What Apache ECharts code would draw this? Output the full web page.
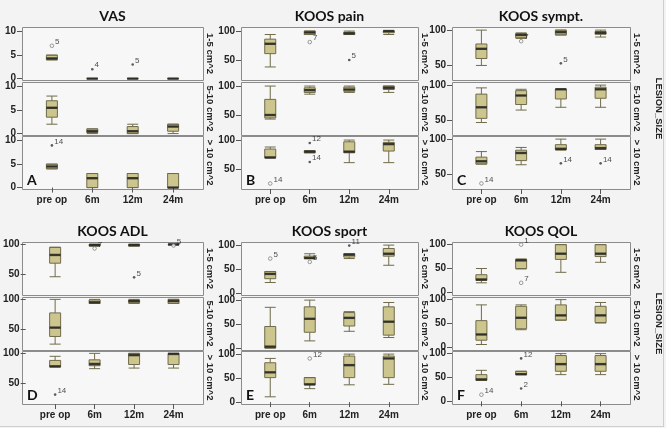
<!DOCTYPE html>
<html>
<head>
<meta charset="utf-8">
<script src="https://cdn.jsdelivr.net/npm/echarts@6/dist/echarts.min.js"></script>
<style>html,body{margin:0;padding:0;background:#f3f3f3;}#c{width:666px;height:428px;}</style>
</head>
<body>
<div id="c"></div>
<script>
const categories = ['pre op', '6m', '12m', '24m'];
const rowLabels = ['1-5 cm^2', '5-10 cm^2', '> 10 cm^2'];
const panelTitles = ['VAS', 'KOOS pain', 'KOOS sympt.', 'KOOS ADL', 'KOOS sport', 'KOOS QOL'];
const panelLetters = ['A', 'B', 'C', 'D', 'E', 'F'];

// boxes per lesion-size row: [min, Q1, median, Q3, max] for pre op, 6m, 12m, 24m
const vasBoxes = [
  [[4, 4, 4.3, 5, 5], [0, 0, 0, 0, 0], [0, 0, 0, 0, 0], [0, 0, 0, 0, 0]],
  [[2, 3.5, 5.5, 7, 8], [0, 0.2, 0.5, 1, 1], [0, 0, 0.5, 1.5, 2], [0, 0.5, 1.5, 2, 2]],
  [[4, 4, 4.5, 5, 5], [0, 0, 2, 3, 3], [0, 0, 2, 3, 3], [0, 0, 0, 3, 3]]
];
const painBoxes = [
  [[38, 61, 78, 86, 94], [94, 94, 97.5, 100, 100], [94, 94, 96, 98, 100], [94, 97, 100, 100, 100]],
  [[43, 45, 50, 77, 100], [86, 89, 93, 97, 100], [89, 91, 94, 98, 100], [89, 94, 97, 100, 100]],
  [[69, 69.5, 70, 84.5, 88], [78, 78, 80, 81.5, 81.5], [61, 78, 80, 97, 100], [61, 81, 93, 96, 100]]
];
const symptBoxes = [
  [[49, 59, 73, 80, 100], [88, 89, 93, 95, 96], [93, 93, 97, 100, 100], [90, 94, 96, 98, 100]],
  [[46, 52, 68, 87, 96], [64, 72, 85, 92, 94], [68, 80, 94, 94, 94], [68, 81, 94, 97, 100]],
  [[64, 64, 68, 74, 82], [63, 69, 80, 84, 88], [84, 85, 86, 92, 100], [85, 85, 87, 92, 100]]
];
const adlBoxes = [
  [[45, 68, 82, 95, 95], [97, 97, 99, 100, 100], [97, 97, 99, 100, 100], [99, 99, 100, 100, 100]],
  [[24, 37, 52, 77, 100], [93, 93, 95, 99, 100], [93, 94, 97, 99, 100], [93, 93, 97, 100, 100]],
  [[77, 77, 78, 88, 95], [74, 79, 82, 89, 100], [75, 81, 97, 100, 100], [75, 81, 99, 100, 100]]
];
const sportBoxes = [
  [[22, 30, 40, 45, 45], [72, 72, 73, 77, 82], [72, 75, 80, 82, 82], [58, 77, 82, 93, 100]],
  [[0, 0, 3, 45, 85], [15, 33, 61, 86, 100], [35, 46, 63, 74, 76], [22, 27, 55, 86, 95]],
  [[11, 51, 62, 82, 91], [28, 36, 37, 51, 51], [36, 51, 77, 96, 100], [37, 51, 91, 96, 100]]
];
const qolBoxes = [
  [[20, 25, 27, 37, 50], [49, 50, 67, 69, 70], [42, 69, 81, 100, 100], [63, 75, 81, 100, 100]],
  [[6, 15, 27, 56, 89], [37, 39, 62, 86, 89], [57, 57, 67, 89, 100], [51, 52, 67, 86, 94]],
  [[44, 44, 46, 56, 65], [56, 56, 57, 63, 63], [56, 63, 78, 96, 100], [56, 63, 78, 96, 100]]
];

// outliers: [row, category index, value, case label, kind ('o' = outlier, '*' = extreme)]
const vasOutliers = [[0, 0, 7, '5', 'o'], [0, 1, 2, '4', '*'], [0, 2, 3, '5', '*'], [2, 0, 9, '14', '*']];
const painOutliers = [[0, 1, 81, '7', 'o'], [0, 2, 50, '5', '*'], [2, 0, 25, '14', 'o'], [2, 1, 95, '12', '*'], [2, 1, 62, '14', '*']];
const symptOutliers = [[0, 1, 84, '7', 'o'], [0, 2, 52, '5', '*'], [2, 0, 36, '14', 'o'], [2, 2, 65, '14', '*'], [2, 3, 65, '14', '*']];
const adlOutliers = [[0, 1, 93, '7', 'o'], [0, 2, 44, '5', '*'], [0, 3, 98, '5', 'o'], [2, 0, 30, '14', '*']];
const sportOutliers = [[0, 0, 72, '5', 'o'], [0, 1, 65, '5', 'o'], [0, 2, 99, '11', '*'], [2, 1, 91, '12', 'o']];
const qolOutliers = [[0, 1, 100, '1', 'o'], [0, 1, 20, '7', 'o'], [2, 0, 14, '14', 'o'], [2, 1, 90, '12', '*'], [2, 1, 27, '2', '*']];

// axis ranges and tick labels
const vasRange = [-0.3, 11];   const vasTicks = [0, 5, 10];
const painRange = [15.5, 107]; const painTicks = [50, 100];
const symptRange = [28, 104.5]; const symptTicks = [50, 100];
const adlRange = [14, 104];    const adlTicks = [50, 100];
const sportRange = [-4, 106.5]; const sportTicks = [0, 50, 100];
const qolRange = [-5.5, 105.5]; const qolTicks = [0, 50, 100];

const allBoxes = [vasBoxes, painBoxes, symptBoxes, adlBoxes, sportBoxes, qolBoxes];
const allOutliers = [vasOutliers, painOutliers, symptOutliers, adlOutliers, sportOutliers, qolOutliers];
const allRanges = [vasRange, painRange, symptRange, adlRange, sportRange, qolRange];
const allTicks = [vasTicks, painTicks, symptTicks, adlTicks, sportTicks, qolTicks];

// layout
const colLeft = [22, 241, 452];
const colWidth = [181, 177, 178];
const panelTop = [27, 242];
const rowStep = 54.5;
const rowH = 53;
const SANS = '"Liberation Sans", Arial, sans-serif';
const TITLE_FONT = 'Lato, "Open Sans", sans-serif';

const grids = [], xAxes = [], yAxes = [], series = [], graphics = [];

for (let p = 0; p < 6; p++) {
  const col = p % 3, pr = Math.floor(p / 3);
  const L = colLeft[col], W = colWidth[col];
  const inset = W * 0.0536;
  graphics.push({
    type: 'text', x: L + W / 2, y: panelTop[pr] - 11, z: 5, silent: true,
    style: { text: panelTitles[p], x: 0, y: 0, align: 'center', verticalAlign: 'middle',
      font: 'bold 14px ' + TITLE_FONT, fill: '#111' }
  });
  for (let r = 0; r < 3; r++) {
    const T = Math.round(panelTop[pr] + r * rowStep);
    const idx = grids.length;
    grids.push({ left: L + inset, top: T, width: W - 2 * inset, height: rowH });
    graphics.push({
      type: 'rect', z: -1, silent: true,
      shape: { x: L + 0.5, y: T + 0.5, width: W, height: rowH },
      style: { fill: '#f7f7f7', stroke: '#8c8c8c', lineWidth: 1 }
    });
    graphics.push({
      type: 'text', x: L + W + 7, y: T + rowH / 2, rotation: -Math.PI / 2, z: 5, silent: true,
      style: { text: rowLabels[r], x: 0, y: 0, align: 'center', verticalAlign: 'middle',
        font: 'bold 9.5px ' + SANS, fill: '#222' }
    });
    if (col === 2 && r === 1) {
      graphics.push({
        type: 'text', x: 659, y: T + rowH / 2, rotation: -Math.PI / 2, z: 5, silent: true,
        style: { text: 'LESION_SIZE', x: 0, y: 0, align: 'center', verticalAlign: 'middle',
          font: 'bold 9.5px ' + SANS, fill: '#222' }
      });
    }
    if (r === 2) {
      graphics.push({
        type: 'text', x: L + 5, y: T + rowH - 9, z: 5, silent: true,
        style: { text: panelLetters[p], x: 0, y: 0, align: 'left', verticalAlign: 'middle',
          font: 'bold 14px ' + TITLE_FONT, fill: '#111' }
      });
    }
    xAxes.push({
      type: 'category', gridIndex: idx, data: categories, boundaryGap: true,
      axisLine: { show: false },
      axisTick: { show: r === 2, interval: 0, alignWithLabel: true, length: 5, lineStyle: { color: '#555' } },
      axisLabel: { show: r === 2, interval: 0, margin: 6, fontFamily: SANS, fontWeight: 'bold', fontSize: 10, color: '#222' },
      splitLine: { show: false }
    });
    yAxes.push({
      type: 'value', gridIndex: idx, min: allRanges[p][0], max: allRanges[p][1], offset: inset,
      axisLine: { show: false },
      axisTick: { show: true, length: 5, customValues: allTicks[p], lineStyle: { color: '#555' } },
      axisLabel: { customValues: allTicks[p], margin: 6, fontFamily: SANS, fontWeight: 'bold', fontSize: 10, color: '#222' },
      splitLine: { show: false }
    });
    const boxes = allBoxes[p][r];
    series.push({
      type: 'boxplot', xAxisIndex: idx, yAxisIndex: idx, data: boxes, boxWidth: [11, 11], silent: true,
      itemStyle: { color: '#cdc58e', borderColor: '#6f6b4a', borderWidth: 1 }
    });
    series.push({
      type: 'scatter', xAxisIndex: idx, yAxisIndex: idx, z: 4, silent: true,
      data: boxes.map((b, i) => [i, b[2]]),
      symbol: 'rect', symbolSize: [11, 2.4], itemStyle: { color: '#1e1e1e' }
    });
    const outs = allOutliers[p].filter(o => o[0] === r);
    const labelCfg = { show: true, formatter: (d) => d.data[2], position: 'right', distance: 1, offset: [0, -4],
      fontSize: 8, fontFamily: SANS, color: '#222' };
    series.push({
      type: 'scatter', xAxisIndex: idx, yAxisIndex: idx, z: 5, silent: true,
      data: outs.filter(o => o[4] === 'o').map(o => [o[1], o[2], o[3]]),
      symbol: 'circle', symbolSize: 3.6,
      itemStyle: { color: '#f7f7f7', borderColor: '#666', borderWidth: 0.8 }, label: labelCfg
    });
    series.push({
      type: 'scatter', xAxisIndex: idx, yAxisIndex: idx, z: 5, silent: true,
      data: outs.filter(o => o[4] === '*').map(o => [o[1], o[2], o[3]]),
      symbol: 'circle', symbolSize: 2.6, itemStyle: { color: '#333' }, label: labelCfg
    });
  }
}
graphics.push({ type: 'line', z: -1, silent: true, shape: { x1: 663.5, y1: 0, x2: 663.5, y2: 427 }, style: { stroke: '#cfcfcf', lineWidth: 1 } });
graphics.push({ type: 'line', z: -1, silent: true, shape: { x1: 0, y1: 426.5, x2: 664, y2: 426.5 }, style: { stroke: '#cfcfcf', lineWidth: 1 } });

const chart = echarts.init(document.getElementById('c'), null, { renderer: 'canvas' });
chart.setOption({
  backgroundColor: '#f3f3f3',
  animation: false,
  grid: grids, xAxis: xAxes, yAxis: yAxes, series: series,
  graphic: { elements: graphics }
});
</script>
</body>
</html>
